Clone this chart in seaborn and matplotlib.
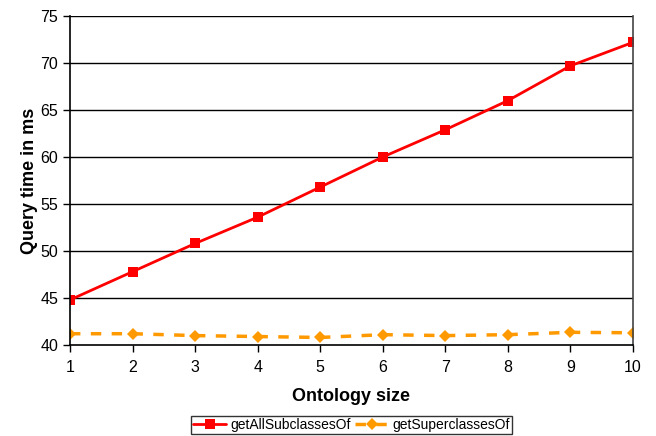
import numpy as np
import pandas as pd
import seaborn as sb
import matplotlib.pyplot as plt

sizes = [1, 2, 3, 4, 5, 6, 7, 8, 9, 10]
all_subclasses = [44.8, 47.8, 50.8, 53.6, 56.8, 60.0, 62.9, 66.0, 69.7, 72.2]
superclasses = [41.2, 41.2, 41.0, 40.9, 40.8, 41.1, 41.0, 41.1, 41.35, 41.3]

sb.set_style("white")
plt.rcParams['font.family'] = ['Liberation Sans', 'DejaVu Sans']
plt.rcParams['text.color'] = 'black'
plt.rcParams['axes.labelcolor'] = 'black'
plt.rcParams['xtick.color'] = 'black'
plt.rcParams['ytick.color'] = 'black'

fi = plt.figure(figsize=(6.56, 4.36), dpi=100)
ax = fi.add_axes([70 / 656, 1 - 345 / 436, 563 / 656, 329 / 436])

sb.lineplot(x=sizes, y=all_subclasses, ax=ax
            , color='#ff0000', linewidth=2, marker='s', markersize=7.5
            , markeredgewidth=0, label='getAllSubclassesOf')
sb.lineplot(x=sizes, y=superclasses, ax=ax
            , color='#ff9900', linewidth=2.5, marker='D', markersize=6
            , markeredgewidth=0, dashes=(3, 3), label='getSuperclassesOf')

ax.set_xlim(1, 10)
ax.set_ylim(40, 75)
ax.set_xticks(sizes)
ax.set_yticks(range(40, 80, 5))
for v in range(45, 80, 5):
    ax.axhline(v, color='black', linewidth=1, zorder=0)

ax.spines['top'].set_visible(False)
ax.spines['right'].set_color('#444444')
ax.spines['left'].set_color('black')
ax.spines['bottom'].set_color('black')
for s in ['left', 'bottom', 'right']:
    ax.spines[s].set_linewidth(1.2)

ax.tick_params(axis='both', direction='out', length=5, width=1, color='black'
               , labelsize=11.5, left=True, bottom=True)
ax.tick_params(axis='x', pad=6)
ax.set_xlabel('Ontology size', fontsize=13, fontweight='bold', labelpad=9)
ax.set_ylabel('Query time in ms', fontsize=13, fontweight='bold', labelpad=2)

leg = ax.legend(loc='lower center', ncol=2, frameon=True, fancybox=False
                , fontsize=10, handlelength=2.4, borderpad=0.15
                , columnspacing=0.3, handletextpad=0.3, borderaxespad=0)
leg.get_frame().set_edgecolor('black')
leg.get_frame().set_linewidth(1)
# legend sits under the plot area, not the figure centre
leg.set_bbox_to_anchor((351.5 / 656, 2 / 436), transform=fi.transFigure)

plt.savefig('out.png', dpi=100)
plt.close()
